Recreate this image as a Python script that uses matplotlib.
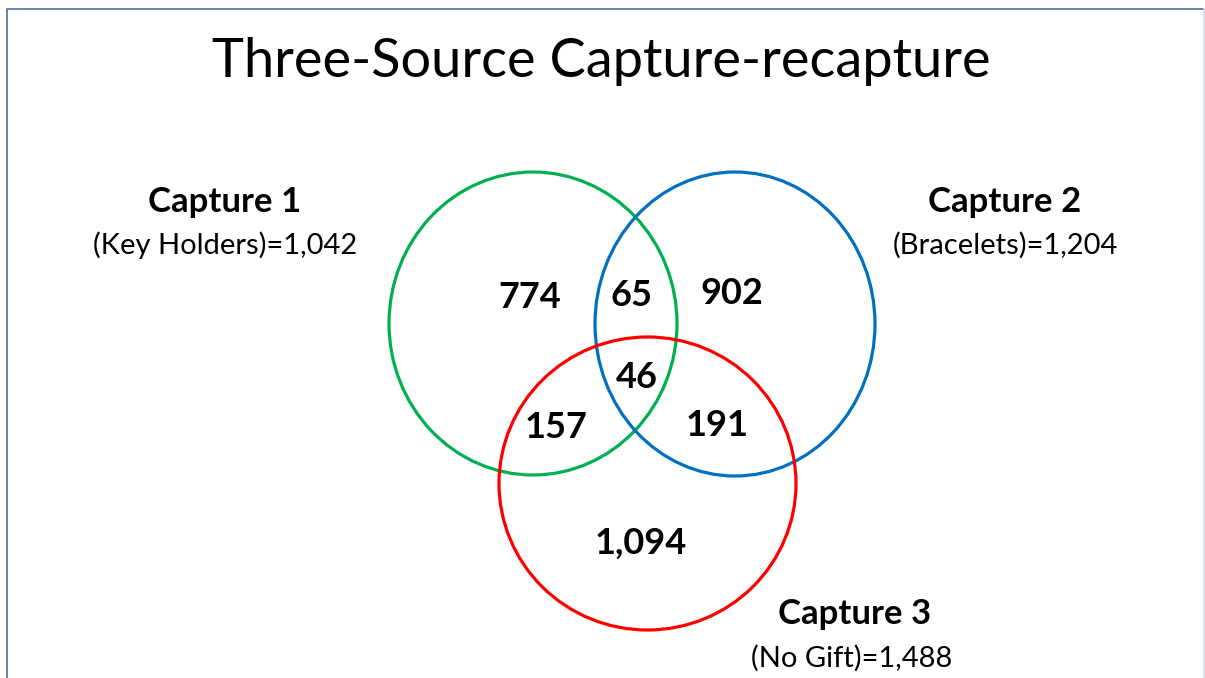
import matplotlib.pyplot as plt
from matplotlib.patches import Ellipse

plt.rcParams['font.family'] = ['Lato', 'DejaVu Sans']

title = 'Three-Source Capture-recapture'

# outlines: centre x, centre y, width, height (pixel coords), colour
circle_x = [533, 735, 647.5]
circle_y = [323.5, 324, 483.5]
circle_w = [288, 280, 297]
circle_h = [303, 304, 293]
circle_colors = ['#00B050', '#0070C0', '#FF0000']

set_names = ['Capture 1', 'Capture 2', 'Capture 3']
set_details = ['(Key Holders)=1,042', '(Bracelets)=1,204', '(No Gift)=1,488']
name_x = [225, 1005, 855]
name_y = [202, 202, 614]
detail_x = [225, 1005, 852]
detail_y = [245, 245, 658]

region_values = ['774', '65', '902', '46', '157', '191', '1,094']
region_x = [530, 631, 732, 637, 556, 717, 641]
region_y = [297, 296, 293, 378, 427, 426, 543]

fig = plt.figure(figsize=(12.05, 6.78), dpi=100)
ax = fig.add_axes([0, 0, 1, 1])
ax.set_xlim(0, 1205)
ax.set_ylim(678, 0)
ax.axis('off')

# slide border
ax.plot([7, 7, 1204], [678, 9, 9], color='#4F6FA0', lw=1.2)
ax.plot([1204, 1204], [9, 678], color='#D9DDE6', lw=1.2)

ax.text(601, 62, title, fontsize=39, ha='center', va='center')

for x, y, w, h, c in zip(circle_x, circle_y, circle_w, circle_h, circle_colors):
    ax.add_patch(Ellipse((x, y), w, h, fill=False, edgecolor=c, lw=2.3))

for i in range(3):
    ax.text(name_x[i], name_y[i], set_names[i], fontsize=25, fontweight='bold',
            ha='center', va='center')
    ax.text(detail_x[i], detail_y[i], set_details[i], fontsize=21,
            ha='center', va='center')

for v, x, y in zip(region_values, region_x, region_y):
    ax.text(x, y, v, fontsize=26, fontweight='bold', ha='center', va='center')

fig.savefig('out.png', dpi=100)
